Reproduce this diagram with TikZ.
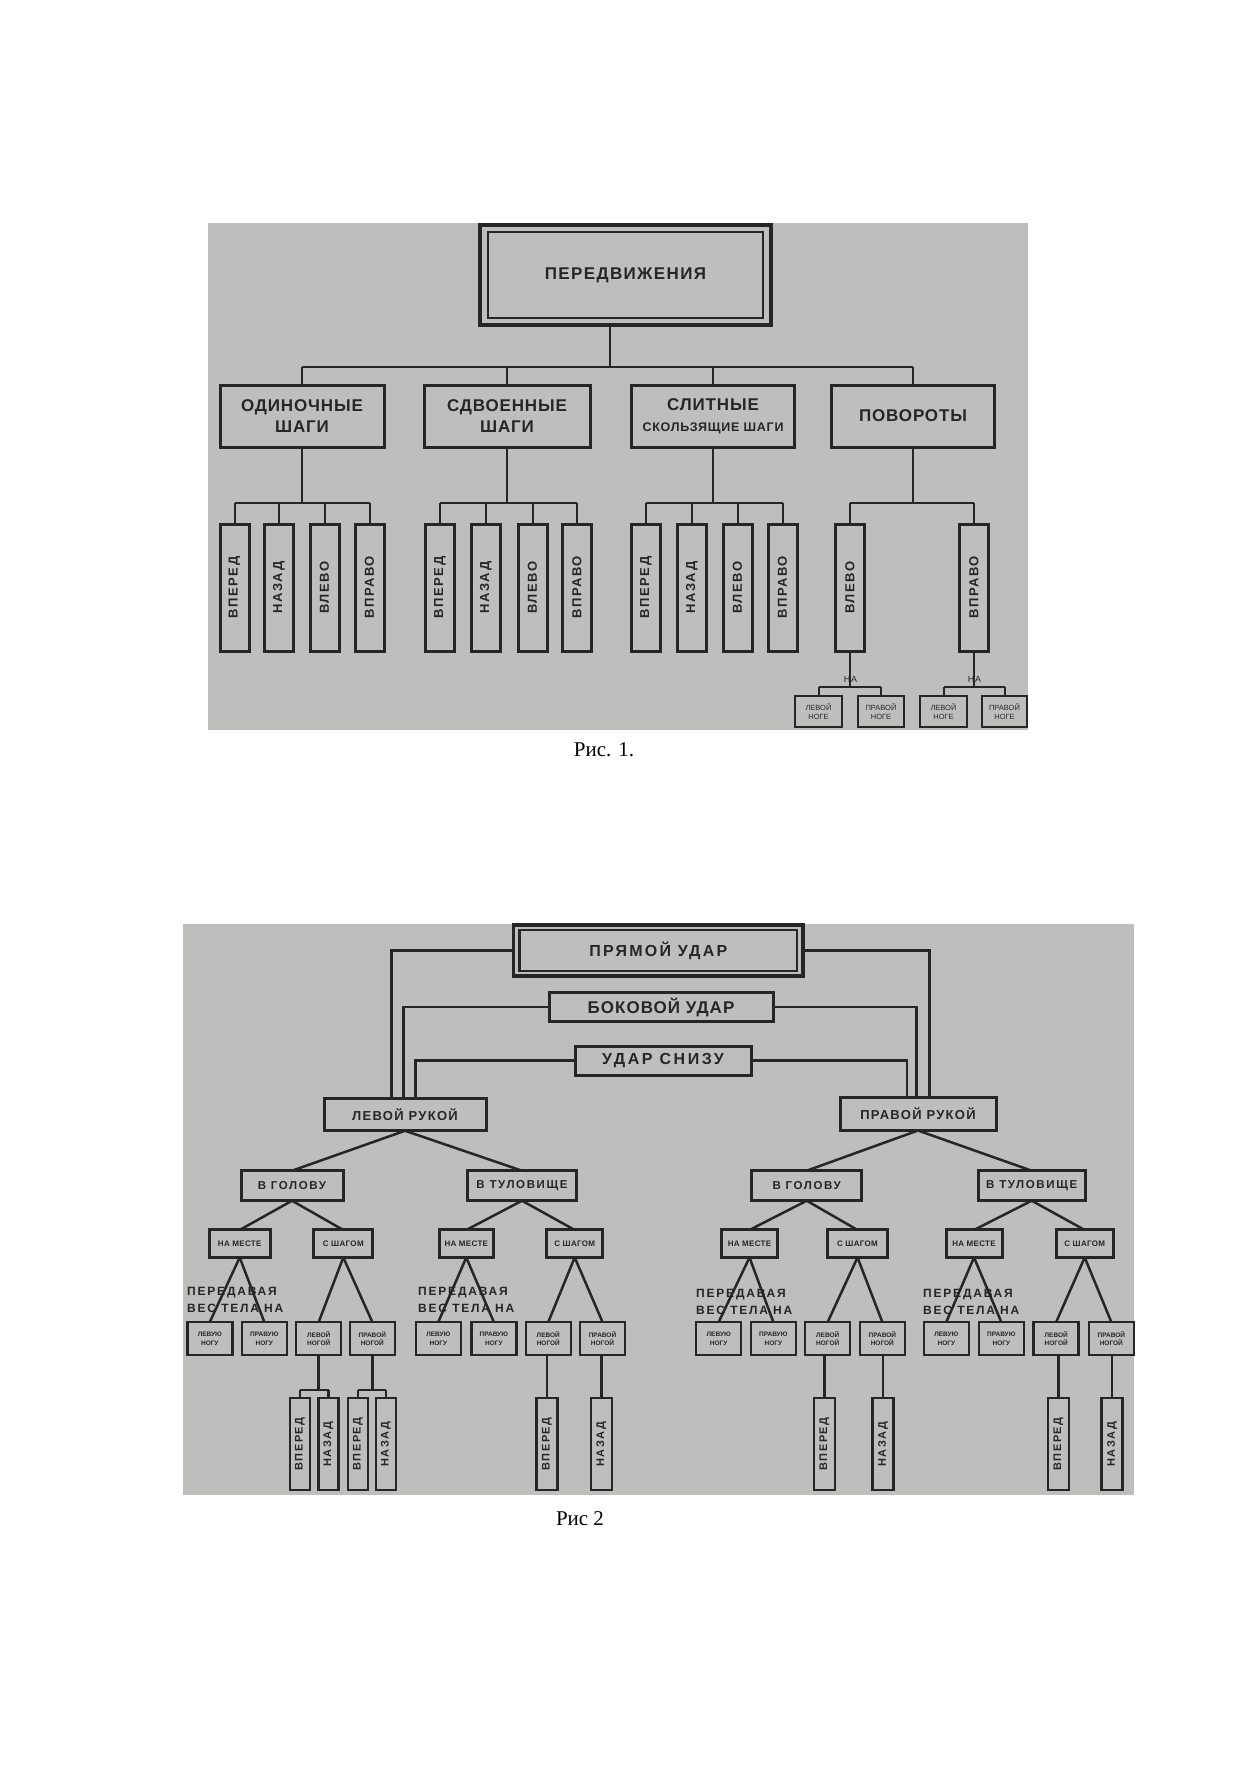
\documentclass[tikz,border=0pt]{standalone}
\usepackage{fontspec}
\usepackage{graphicx}
\setmainfont{Liberation Serif}
\newfontfamily\grot{Liberation Sans}
\newcommand{\gkf}[3]{\grot\bfseries\fontsize{#1}{#2}\selectfont\addfontfeatures{LetterSpace=#3}}
\newcommand{\gkr}[3]{\grot\fontsize{#1}{#2}\selectfont\addfontfeatures{LetterSpace=#3}}
\definecolor{ink}{RGB}{38,38,38}
\definecolor{paper}{RGB}{190,190,188}
\begin{document}
\begin{tikzpicture}[x=1pt,y=-1pt,
  bx/.style={draw=ink, line width=3pt, inner sep=0pt, outer sep=0pt, align=center, text=ink},
  conA/.style={draw=ink, line width=2pt},
  conB/.style={draw=ink, line width=2.5pt},
  lvtwo/.style={bx, minimum height=62pt, font=\gkf{17}{21}{5}},
  leafA/.style={bx, minimum width=29pt, minimum height=127pt, font=\gkf{13}{15}{12}},
  smallA/.style={bx, line width=2.5pt, minimum height=31pt, font=\gkr{7.5}{9.5}{0}},
  midB/.style={bx, minimum height=30pt, font=\gkf{11.5}{13}{14}},
  lfour/.style={bx, minimum height=27.5pt, font=\gkf{8}{9}{4}},
  lfive/.style={bx, line width=2.5pt, minimum width=45pt, minimum height=33pt, font=\gkf{6.5}{8.5}{0}},
  leafB/.style={bx, line width=2.5pt, minimum height=92pt, font=\gkf{11}{13}{14}},
  pered/.style={anchor=west, align=left, inner sep=0pt, text=ink, font=\gkf{12}{16.5}{15}},
  capt/.style={inner sep=0pt, text=black, font=\fontsize{21}{24}\selectfont}
]
\fill[white] (0,0) rectangle (1259,1786);
\useasboundingbox (0,0) rectangle (1259,1786);
\fill[paper] (208,223) rectangle (1028,730);
\fill[paper] (183,924) rectangle (1134,1495);

% ---------------- Figure 1 ----------------
\node[bx, line width=4pt, minimum width=291pt, minimum height=100pt, font=\gkf{17}{20}{8}] (top1) at (625.5,275) {ПЕРЕДВИЖЕНИЯ};
\draw[ink, line width=2.5pt] ([shift={(8,7)}]top1.north west) rectangle ([shift={(-8,-7)}]top1.south east);

\node[lvtwo, minimum width=164pt] (o1) at (302,416) {ОДИНОЧНЫЕ\\ШАГИ};
\node[lvtwo, minimum width=166pt] (o2) at (507,416) {СДВОЕННЫЕ\\ШАГИ};
\node[lvtwo, minimum width=163pt] (o3) at (713,416) {СЛИТНЫЕ\\{\gkf{12.5}{15}{6}СКОЛЬЗЯЩИЕ ШАГИ}};
\node[lvtwo, minimum width=163.5pt] (o4) at (913,416) {ПОВОРОТЫ};

\coordinate (b1) at (610,367);
\coordinate (b2) at (0,503);
\coordinate (b3) at (0,687);
\draw[conA] (b1 |- top1.south) -- (b1);
\draw[conA] (o1.north |- b1) -- (o4.north |- b1);
\foreach \pp in {o1,o2,o3,o4} \draw[conA] (\pp.north) -- (\pp.north |- b1);

\foreach \nn/\xx/\lbl in {l11/234.5/ВПЕРЕД, l12/279/НАЗАД, l13/324.5/ВЛЕВО, l14/369.5/ВПРАВО,
  l21/440/ВПЕРЕД, l22/486/НАЗАД, l23/532.5/ВЛЕВО, l24/577/ВПРАВО,
  l31/646/ВПЕРЕД, l32/692/НАЗАД, l33/737.5/ВЛЕВО, l34/782.5/ВПРАВО,
  v1/850/ВЛЕВО, v2/974/ВПРАВО}
  \node[leafA] (\nn) at (\xx,587.5) {\rotatebox{90}{\lbl}};

\foreach \pp/\qa/\qb/\qc/\qd in {o1/l11/l12/l13/l14, o2/l21/l22/l23/l24, o3/l31/l32/l33/l34} {
  \draw[conA] (\pp.south) -- (\pp.south |- b2);
  \draw[conA] (\qa.north |- b2) -- (\qd.north |- b2);
  \foreach \qq in {\qa,\qb,\qc,\qd} \draw[conA] (\qq.north) -- (\qq.north |- b2);
}
\draw[conA] (o4.south) -- (o4.south |- b2);
\draw[conA] (v1.north |- b2) -- (v2.north |- b2);
\draw[conA] (v1.north) -- (v1.north |- b2);
\draw[conA] (v2.north) -- (v2.north |- b2);

\node[smallA, minimum width=47pt] (n1) at (818.5,711.5) {ЛЕВОЙ\\НОГЕ};
\node[smallA, minimum width=46pt] (n2) at (881,711.5) {ПРАВОЙ\\НОГЕ};
\node[smallA, minimum width=47pt] (n3) at (943.5,711.5) {ЛЕВОЙ\\НОГЕ};
\node[smallA, minimum width=45pt] (n4) at (1004.5,711.5) {ПРАВОЙ\\НОГЕ};

\foreach \pp/\qa/\qb in {v1/n1/n2, v2/n3/n4} {
  \draw[conA] (\pp.south) -- (\pp.south |- b3);
  \draw[conA] (\qa.north |- b3) -- (\qb.north |- b3);
  \draw[conA] (\qa.north) -- (\qa.north |- b3);
  \draw[conA] (\qb.north) -- (\qb.north |- b3);
}
\node[inner sep=0pt, text=ink, font=\gkr{9}{10}{6}] (na1) at (850.5,679) {НА};
\node[inner sep=0pt, text=ink, font=\gkr{9}{10}{6}] (na2) at (974.5,679) {НА};

\node[capt] (cap1) at (604,750) {Рис. 1.};

% ---------------- Figure 2 ----------------
\node[bx, line width=3.5pt, minimum width=289.5pt, minimum height=51pt, font=\gkf{16}{19}{14}] (pu) at (658.3,950.5) {ПРЯМОЙ УДАР};
\draw[ink, line width=2.5pt] ([shift={(6,5)}]pu.north west) rectangle ([shift={(-6,-5)}]pu.south east);
\node[bx, minimum width=224pt, minimum height=29pt, font=\gkf{17}{19}{6}] (bu) at (661,1007) {БОКОВОЙ УДАР};
\node[bx, minimum width=176pt, minimum height=29pt, font=\gkf{16}{19}{16}] (us) at (663,1060.5) {УДАР СНИЗУ};
\node[bx, minimum width=162pt, minimum height=32.5pt, font=\gkf{13}{15}{10}] (lr) at (405,1114.5) {ЛЕВОЙ РУКОЙ};
\node[bx, minimum width=156pt, minimum height=33pt, font=\gkf{13}{15}{10}] (rr) at (918,1114) {ПРАВОЙ РУКОЙ};

\draw[conB] (pu.west) -| ([shift={(-13.5,0)}]lr.north);
\draw[conB] (pu.east) -| ([shift={(11.5,0)}]rr.north);
\draw[conB] (bu.west) -| ([shift={(-1.5,0)}]lr.north);
\draw[conB] (bu.east) -| ([shift={(-1.5,0)}]rr.north);
\draw[conB] (us.west) -| ([shift={(10.5,0)}]lr.north);
\draw[conB] (us.east) -| ([shift={(-11,0)}]rr.north);

\node[midB, minimum width=102pt] (lg) at (292,1185.7) {В ГОЛОВУ};
\node[midB, minimum width=109pt] (lt) at (522,1185.7) {В ТУЛОВИЩЕ};
\node[midB, minimum width=110pt] (rg) at (806.7,1185.7) {В ГОЛОВУ};
\node[midB, minimum width=107pt] (rt) at (1031.7,1185.7) {В ТУЛОВИЩЕ};

\foreach \nn/\xx/\ww/\lbl in {lgm/239.7/61/НА МЕСТЕ, lgs/343.3/59/С ШАГОМ, ltm/466.3/54/НА МЕСТЕ, lts/574.7/56/С ШАГОМ,
  rgm/749.5/56/НА МЕСТЕ, rgs/857.5/60/С ШАГОМ, rtm/974/56/НА МЕСТЕ, rts/1084.7/57/С ШАГОМ}
  \node[lfour, minimum width=\ww pt] (\nn) at (\xx,1243.7) {\lbl};

\foreach \nn/\xx/\lbl in {a1/209.8/ЛЕВУЮ\\НОГУ, a2/264.3/ПРАВУЮ\\НОГУ, a3/318.7/ЛЕВОЙ\\НОГОЙ, a4/372.3/ПРАВОЙ\\НОГОЙ,
  a5/438.3/ЛЕВУЮ\\НОГУ, a6/493.8/ПРАВУЮ\\НОГУ, a7/548.3/ЛЕВОЙ\\НОГОЙ, a8/602.5/ПРАВОЙ\\НОГОЙ,
  a9/718.7/ЛЕВУЮ\\НОГУ, a10/773.3/ПРАВУЮ\\НОГУ, a11/827.7/ЛЕВОЙ\\НОГОЙ, a12/882.3/ПРАВОЙ\\НОГОЙ,
  a13/946.3/ЛЕВУЮ\\НОГУ, a14/1001.3/ПРАВУЮ\\НОГУ, a15/1056.2/ЛЕВОЙ\\НОГОЙ, a16/1111.3/ПРАВОЙ\\НОГОЙ}
  \node[lfive] (\nn) at (\xx,1338.5) {\lbl};

\foreach \nn/\xx/\ww/\lbl in {f1/300/20/ВПЕРЕД, f2/328.5/20/НАЗАД, f3/358/20/ВПЕРЕД, f4/386/20/НАЗАД,
  f5/547/21/ВПЕРЕД, f6/601.3/21/НАЗАД, f7/824.5/21/ВПЕРЕД, f8/883/21/НАЗАД, f9/1058.5/21/ВПЕРЕД, f10/1112.2/21/НАЗАД}
  \node[leafB, minimum width=\ww pt] (\nn) at (\xx,1444) {\rotatebox{90}{\lbl}};

% tree connectors
\foreach \pp/\qa/\qb in {lr/lg/lt, rr/rg/rt, lg/lgm/lgs, lt/ltm/lts, rg/rgm/rgs, rt/rtm/rts,
  lgm/a1/a2, lgs/a3/a4, ltm/a5/a6, lts/a7/a8, rgm/a9/a10, rgs/a11/a12, rtm/a13/a14, rts/a15/a16} {
  \draw[conB] (\pp.south) -- (\qa.north);
  \draw[conB] (\pp.south) -- (\qb.north);
}

\coordinate (b6) at (0,1390);
\foreach \pp/\qa/\qb in {a3/f1/f2, a4/f3/f4} {
  \draw[conB] (\pp.south) -- (\pp.south |- b6);
  \draw[conB] (\qa.north |- b6) -- (\qb.north |- b6);
  \draw[conB] (\qa.north) -- (\qa.north |- b6);
  \draw[conB] (\qb.north) -- (\qb.north |- b6);
}
\foreach \pp/\qa in {a7/f5, a8/f6, a11/f7, a12/f8, a15/f9, a16/f10}
  \draw[conB] (\qa.north) -- (\qa.north |- \pp.south);

\node[pered] (t1) at (187,1300) {ПЕРЕДАВАЯ\\ВЕС ТЕЛА НА};
\node[pered] (t2) at (418,1300) {ПЕРЕДАВАЯ\\ВЕС ТЕЛА НА};
\node[pered] (t3) at (696,1302) {ПЕРЕДАВАЯ\\ВЕС ТЕЛА НА};
\node[pered] (t4) at (923,1302) {ПЕРЕДАВАЯ\\ВЕС ТЕЛА НА};

\node[capt] (cap2) at (580,1519) {Рис 2};
\end{tikzpicture}
\end{document}
